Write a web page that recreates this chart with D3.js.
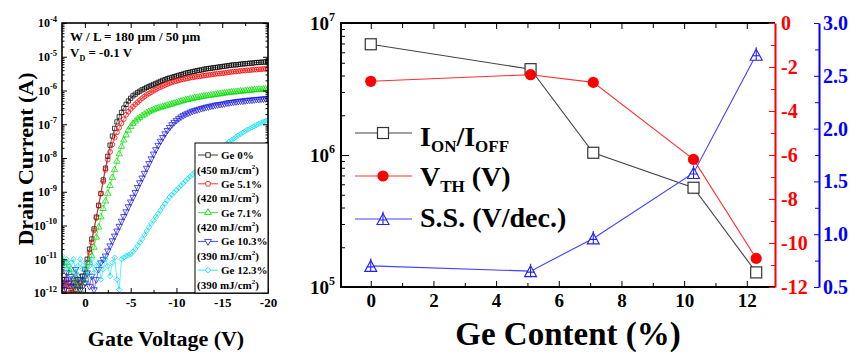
<!DOCTYPE html>
<html><head><meta charset="utf-8">
<script src="https://cdn.jsdelivr.net/npm/d3@7"></script>
<style>
body{margin:0;background:#fff}
svg{display:block}
text{font-family:"Liberation Serif","Times New Roman",serif;font-weight:bold}
</style>
</head><body>
<svg id="c" width="851" height="356"></svg>
<script>
// ---------------- DATA: transfer curves (log10 of drain current, A) ----------------
const gateVoltage = [
 2.5, 2.25, 2, 1.75, 1.5, 1.25, 1, 0.75, 0.5, 0.25,
 0, -0.25, -0.5, -0.75, -1, -1.25, -1.5, -1.75, -2, -2.25,
 -2.5, -2.75, -3, -3.25, -3.5, -3.75, -4, -4.25, -4.5, -4.75,
 -5, -5.25, -5.5, -5.75, -6, -6.25, -6.5, -6.75, -7, -7.25,
 -7.5, -7.75, -8, -8.25, -8.5, -8.75, -9, -9.25, -9.5, -9.75,
 -10, -10.25, -10.5, -10.75, -11, -11.25, -11.5, -11.75, -12, -12.25,
 -12.5, -12.75, -13, -13.25, -13.5, -13.75, -14, -14.25, -14.5, -14.75,
 -15, -15.25, -15.5, -15.75, -16, -16.25, -16.5, -16.75, -17, -17.25,
 -17.5, -17.75, -18, -18.25, -18.5, -18.75, -19, -19.25, -19.5, -19.75,
 -20];
const logId_Ge0 = [
 -11.7, -11.9, -11.6, -11.8, -12.0, -11.7, -11.9, -11.6, -11.8, -11.5,
 -11.3, -11.0, -10.7, -10.4, -10.1, -9.75, -9.4, -9.05, -8.65, -8.3,
 -7.95, -7.62, -7.35, -7.12, -6.93, -6.78, -6.65, -6.52, -6.41, -6.31,
 -6.23, -6.16, -6.11, -6.06, -6.02, -5.98, -5.95, -5.91, -5.88, -5.85,
 -5.82, -5.79, -5.76, -5.73, -5.70, -5.68, -5.65, -5.63, -5.61, -5.59,
 -5.57, -5.55, -5.53, -5.51, -5.49, -5.47, -5.46, -5.44, -5.43, -5.41,
 -5.40, -5.39, -5.37, -5.36, -5.35, -5.34, -5.33, -5.32, -5.31, -5.30,
 -5.29, -5.28, -5.27, -5.26, -5.25, -5.24, -5.24, -5.23, -5.22, -5.21,
 -5.21, -5.20, -5.19, -5.19, -5.18, -5.17, -5.17, -5.16, -5.16, -5.15,
 -5.14];
const logId_Ge51 = [
 -11.8, -11.6, -11.9, -11.7, -11.8, -12.0, -11.6, -11.9, -11.7, -11.8,
 -11.5, -11.1, -10.8, -10.5, -10.15, -9.78, -9.42, -9.06, -8.7, -8.35,
 -8.05, -7.82, -7.6, -7.4, -7.24, -7.1, -6.97, -6.85, -6.72, -6.63,
 -6.55, -6.48, -6.41, -6.35, -6.29, -6.23, -6.18, -6.13, -6.09, -6.05,
 -6.01, -5.97, -5.93, -5.90, -5.87, -5.84, -5.81, -5.78, -5.76, -5.74,
 -5.72, -5.70, -5.68, -5.67, -5.65, -5.64, -5.62, -5.61, -5.60, -5.59,
 -5.58, -5.57, -5.56, -5.55, -5.54, -5.53, -5.52, -5.51, -5.50, -5.50,
 -5.49, -5.48, -5.47, -5.46, -5.45, -5.44, -5.44, -5.43, -5.42, -5.41,
 -5.41, -5.40, -5.40, -5.39, -5.38, -5.38, -5.37, -5.37, -5.36, -5.36,
 -5.35];
const logId_Ge71 = [
 -11.0, -11.2, -11.1, -11.4, -11.3, -11.6, -11.8, -11.5, -11.9, -11.6,
 -11.7, -11.4, -11.1, -10.9, -10.65, -10.35, -10.05, -9.75, -9.5, -9.28,
 -9.05, -8.82, -8.58, -8.35, -8.1, -7.88, -7.66, -7.47, -7.32, -7.18,
 -7.07, -6.98, -6.91, -6.85, -6.8, -6.75, -6.71, -6.67, -6.63, -6.6,
 -6.57, -6.54, -6.52, -6.50, -6.48, -6.46, -6.44, -6.42, -6.40, -6.38,
 -6.36, -6.34, -6.32, -6.30, -6.28, -6.27, -6.25, -6.24, -6.22, -6.21,
 -6.20, -6.18, -6.17, -6.16, -6.15, -6.14, -6.13, -6.12, -6.11, -6.10,
 -6.09, -6.08, -6.07, -6.06, -6.05, -6.05, -6.04, -6.03, -6.02, -6.02,
 -6.01, -6.00, -6.00, -5.99, -5.98, -5.98, -5.97, -5.97, -5.96, -5.96,
 -5.95];
const logId_Ge103 = [
 -11.6, -11.9, -11.4, -11.7, -11.5, -11.8, -11.3, -11.6, -11.9, -11.5,
 -11.7, -11.4, -11.8, -11.5, -11.9, -11.6, -11.3, -11.1, -11.0, -10.9,
 -10.75, -10.6, -10.45, -10.31, -10.16, -10.02, -9.87, -9.73, -9.59, -9.44,
 -9.3, -9.16, -9.02, -8.87, -8.73, -8.59, -8.45, -8.3, -8.16, -8.02,
 -7.88, -7.75, -7.62, -7.5, -7.39, -7.28, -7.18, -7.09, -7.01, -6.94,
 -6.88, -6.83, -6.78, -6.74, -6.70, -6.67, -6.64, -6.61, -6.59, -6.57,
 -6.55, -6.53, -6.51, -6.49, -6.48, -6.46, -6.45, -6.43, -6.42, -6.41,
 -6.40, -6.39, -6.37, -6.36, -6.35, -6.34, -6.33, -6.32, -6.31, -6.31,
 -6.30, -6.29, -6.28, -6.28, -6.27, -6.26, -6.26, -6.25, -6.25, -6.24,
 -6.24];
const logId_Ge123 = [
 -10.9, -11.2, -11.0, -11.3, -11.1, -11.0, -11.4, -11.2, -11.0, -11.3,
 -11.1, -11.5, -11.2, -11.0, -11.4, -11.2, -11.1, -11.6, -11.3, -11.0,
 -11.2, -11.5, -11.1, -10.95, -11.6, -11.9, -11.0, -10.95, -10.9, -10.88,
 -10.85, -10.78, -10.7, -10.6, -10.5, -10.4, -10.28, -10.16, -10.05, -9.95,
 -9.85, -9.75, -9.65, -9.55, -9.45, -9.35, -9.25, -9.16, -9.09, -9.02,
 -8.95, -8.88, -8.81, -8.75, -8.68, -8.61, -8.55, -8.49, -8.43, -8.38,
 -8.32, -8.27, -8.22, -8.16, -8.1, -8.03, -7.97, -7.9, -7.83, -7.76,
 -7.7, -7.63, -7.57, -7.52, -7.47, -7.43, -7.38, -7.33, -7.29, -7.25,
 -7.2, -7.16, -7.13, -7.09, -7.06, -7.02, -6.99, -6.96, -6.93, -6.9,
 -6.87];
const sampleNames = ["Ge 0%", "Ge 5.1%", "Ge 7.1%", "Ge 10.3%", "Ge 12.3%"];
const laserFluence = ["450", "420", "420", "390", "390"];
const leftXTicks = [0, -5, -10, -15, -20];
const leftYTicks = [1e-12, 1e-11, 1e-10, 1e-9, 1e-8, 1e-7, 1e-6, 1e-5, 1e-4];

// ---------------- DATA: device parameters vs Ge content ----------------
const geContent = [0, 5.1, 7.1, 10.3, 12.3];
const onOffRatio = [6.9e6, 4.47e6, 1.04e6, 5.65e5, 1.29e5];
const thresholdVoltage = [-2.65, -2.35, -2.7, -6.2, -10.7];
const subthresholdSwing = [0.70, 0.65, 0.96, 1.58, 2.70];
const rightXTicks = [0, 2, 4, 6, 8, 10, 12];
const ratioTicks = [1e5, 1e6, 1e7];
const vthTicks = [0, -2, -4, -6, -8, -10, -12];
const ssTicks = [0.5, 1.0, 1.5, 2.0, 2.5, 3.0];

// ---------------- DRAW ----------------
const svg = d3.select("#c");
const FONT = "Liberation Serif";

function styleAxis(g, size, color) {
  g.attr("font-family", FONT).attr("font-size", size).attr("font-weight", "bold")
   .attr("color", color || "#000");
}
function sciLabels(g, fs, sfs) {
  g.selectAll(".tick text").each(function (d) {
    const e = Math.round(Math.log10(d));
    const t = d3.select(this).text(null);
    t.append("tspan").text("10");
    t.append("tspan").attr("dy", -fs * 0.45).attr("font-size", sfs).text(String(e));
  });
}

// ===== LEFT PANEL =====
const xL = d3.scaleLinear().domain([2.5, -20]).range([62, 268]);
const yL = d3.scaleLog().domain([1e-12, 1e-4]).range([293, 23]);

svg.append("defs").append("clipPath").attr("id", "clipL")
  .append("rect").attr("x", 62).attr("y", 23).attr("width", 206).attr("height", 270);

const series = [
  {vals: logId_Ge0,   color: "#000000", sym: d3.symbolSquare,   rot: 0},
  {vals: logId_Ge51,  color: "#ff0000", sym: d3.symbolCircle,   rot: 0},
  {vals: logId_Ge71,  color: "#00dd00", sym: d3.symbolTriangle, rot: 0},
  {vals: logId_Ge103, color: "#1a1ae0", sym: d3.symbolTriangle, rot: 180},
  {vals: logId_Ge123, color: "#00e0ee", sym: d3.symbolSquare,   rot: 45}
];

const plotL = svg.append("g").attr("clip-path", "url(#clipL)");
series.forEach(s => {
  const pts = gateVoltage.map((v, i) => [xL(v), yL(Math.pow(10, s.vals[i]))]);
  plotL.append("path").attr("d", d3.line()(pts)).attr("fill", "none")
    .attr("stroke", s.color).attr("stroke-width", 0.6);
  plotL.append("g").selectAll("path").data(pts).enter().append("path")
    .attr("transform", d => `translate(${d[0]},${d[1]}) rotate(${s.rot})`)
    .attr("d", d3.symbol(s.sym, s.rot === 45 ? 14 : 18)())
    .attr("fill", "none").attr("stroke", s.color).attr("stroke-width", 0.75);
});

// axes left panel
const minorV = [-2.5, -7.5, -12.5, -17.5];
const minorI = [];
for (let e = -12; e < -4; e++) for (let k = 2; k <= 9; k++) minorI.push(k * Math.pow(10, e));

const gxb = svg.append("g").attr("transform", "translate(0,293)")
  .call(d3.axisBottom(xL).tickValues(leftXTicks).tickSize(-5).tickPadding(5).tickFormat(d => String(d)));
styleAxis(gxb, 13);
svg.append("g").attr("transform", "translate(0,293)")
  .call(d3.axisBottom(xL).tickValues(minorV).tickSize(-3).tickFormat(""));
svg.append("g").attr("transform", "translate(0,23)")
  .call(d3.axisTop(xL).tickValues(leftXTicks).tickSize(-5).tickFormat(""));
svg.append("g").attr("transform", "translate(0,23)")
  .call(d3.axisTop(xL).tickValues(minorV).tickSize(-3).tickFormat(""));

const gyl = svg.append("g").attr("transform", "translate(62,0)")
  .call(d3.axisLeft(yL).tickValues(leftYTicks).tickSize(-5).tickPadding(5));
styleAxis(gyl, 12);
sciLabels(gyl, 12, 8.5);
svg.append("g").attr("transform", "translate(62,0)")
  .call(d3.axisLeft(yL).tickValues(minorI).tickSize(-2.5).tickFormat(""));
svg.append("g").attr("transform", "translate(268,0)")
  .call(d3.axisRight(yL).tickValues(leftYTicks).tickSize(-5).tickFormat(""));
svg.append("g").attr("transform", "translate(268,0)")
  .call(d3.axisRight(yL).tickValues(minorI).tickSize(-2.5).tickFormat(""));
svg.selectAll(".domain").remove();

svg.append("rect").attr("x", 62).attr("y", 23).attr("width", 206).attr("height", 270)
  .attr("fill", "none").attr("stroke", "#000").attr("stroke-width", 1.6);

// annotations
svg.append("text").attr("x", 70).attr("y", 41).attr("font-size", 13).text("W / L = 180 μm / 50 μm");
const vd = svg.append("text").attr("x", 70).attr("y", 57).attr("font-size", 13);
vd.append("tspan").text("V");
vd.append("tspan").attr("font-size", 8).attr("dy", 4).text("D");
vd.append("tspan").attr("dy", -4).text(" = -0.1 V");

// legend left
const lg = svg.append("g");
lg.append("rect").attr("x", 195).attr("y", 143).attr("width", 73).attr("height", 150)
  .attr("fill", "#fff").attr("stroke", "#000").attr("stroke-width", 1);
series.forEach((s, i) => {
  const y = 155 + i * 28.8;
  lg.append("line").attr("x1", 198).attr("x2", 218).attr("y1", y).attr("y2", y)
    .attr("stroke", s.color).attr("stroke-width", 0.8);
  lg.append("path").attr("transform", `translate(208,${y}) rotate(${s.rot})`)
    .attr("d", d3.symbol(s.sym, s.rot === 45 ? 16 : 20)())
    .attr("fill", "#fff").attr("stroke", s.color).attr("stroke-width", 0.8);
  lg.append("text").attr("x", 221).attr("y", y + 4).attr("font-size", 11).text(sampleNames[i]);
  const t = lg.append("text").attr("x", 197).attr("y", y + 18.5).attr("font-size", 11);
  t.append("tspan").text("(" + laserFluence[i] + " mJ/cm");
  t.append("tspan").attr("font-size", 7).attr("dy", -5).text("2");
  t.append("tspan").attr("dy", 5).text(")");
});

// titles left
svg.append("text").attr("transform", "translate(33,159) rotate(-90)")
  .attr("text-anchor", "middle").attr("font-size", 22).text("Drain Current (A)");
svg.append("text").attr("x", 166).attr("y", 346).attr("text-anchor", "middle")
  .attr("font-size", 22).text("Gate Voltage (V)");

// ===== RIGHT PANEL =====
const xR = d3.scaleLinear().domain([-0.95, 12.9]).range([341, 775]);
const yR = d3.scaleLog().domain([1e5, 1e7]).range([287, 23]);
const yVth = d3.scaleLinear().domain([-12, 0]).range([287, 23]);
const ySS = d3.scaleLinear().domain([0.5, 3.0]).range([287, 23]);

const minorG = [1, 3, 5, 7, 9, 11];
const gxr = svg.append("g").attr("transform", "translate(0,287)")
  .call(d3.axisBottom(xR).tickValues(rightXTicks).tickSize(-6).tickPadding(7).tickFormat(d => String(d)));
styleAxis(gxr, 19);
svg.append("g").attr("transform", "translate(0,287)")
  .call(d3.axisBottom(xR).tickValues(minorG).tickSize(-4).tickFormat(""));
svg.append("g").attr("transform", "translate(0,23)")
  .call(d3.axisTop(xR).tickValues(rightXTicks).tickSize(-6).tickFormat(""));
svg.append("g").attr("transform", "translate(0,23)")
  .call(d3.axisTop(xR).tickValues(minorG).tickSize(-5).tickFormat(""));

const minorR = [];
for (let e = 5; e < 7; e++) for (let k = 2; k <= 9; k++) minorR.push(k * Math.pow(10, e));
const gyr = svg.append("g").attr("transform", "translate(341,0)")
  .call(d3.axisLeft(yR).tickValues(ratioTicks).tickSize(-8).tickPadding(6));
styleAxis(gyr, 19);
sciLabels(gyr, 19, 12);
svg.append("g").attr("transform", "translate(341,0)")
  .call(d3.axisLeft(yR).tickValues(minorR).tickSize(-4).tickFormat(""));
svg.selectAll(".domain").remove();

// frame lines (left, top, bottom)
svg.append("path").attr("d", "M775,23 H341 V287 H775").attr("fill", "none")
  .attr("stroke", "#000").attr("stroke-width", 2);

// red axis
const gRed = svg.append("g").attr("transform", "translate(775,0)")
  .call(d3.axisRight(yVth).tickValues(vthTicks).tickSize(-6).tickSizeOuter(0).tickPadding(6).tickFormat(d => String(d)));
styleAxis(gRed, 20, "#ff0000");
gRed.selectAll("text").attr("fill", "#ff0000");
gRed.select(".domain").attr("stroke-width", 2);
svg.append("g").attr("transform", "translate(775,0)").attr("color", "#ff0000")
  .call(d3.axisRight(yVth).tickValues([-1, -3, -5, -7, -9, -11]).tickSize(-4).tickFormat(""))
  .select(".domain").remove();

// blue axis
const gBlue = svg.append("g").attr("transform", "translate(819,0)")
  .call(d3.axisRight(ySS).tickValues(ssTicks).tickSize(-5).tickSizeOuter(0).tickPadding(4).tickFormat(d3.format(".1f")));
styleAxis(gBlue, 20, "#0000ff");
gBlue.selectAll("text").attr("fill", "#0000ff");
gBlue.select(".domain").attr("stroke-width", 2);
svg.append("g").attr("transform", "translate(819,0)").attr("color", "#0000ff")
  .call(d3.axisRight(ySS).tickValues([0.75, 1.25, 1.75, 2.25, 2.75]).tickSize(-4).tickFormat(""))
  .select(".domain").remove();

// markers
function triPlus(g, x, y, color) {
  const h = 11, w = 12;
  g.append("path").attr("d", `M${x},${y - h / 2} L${x + w / 2},${y + h / 2} L${x - w / 2},${y + h / 2} Z`)
    .attr("fill", "#fff").attr("stroke", color).attr("stroke-width", 1.1);
  g.append("path").attr("d", `M${x},${y - h / 2 - 2} V${y + h / 2} M${x - w / 2 + 2},${y + 1} H${x + w / 2 - 2}`)
    .attr("stroke", color).attr("stroke-width", 1.1);
}
function openSquare(g, x, y, color) {
  g.append("rect").attr("x", x - 5.5).attr("y", y - 5.5).attr("width", 11).attr("height", 11)
    .attr("fill", "#fff").attr("stroke", color).attr("stroke-width", 1.2);
}
function dot(g, x, y, color) {
  g.append("circle").attr("cx", x).attr("cy", y).attr("r", 5.6).attr("fill", color);
}

const gR = svg.append("g");
const lineRatio = d3.line().x((d, i) => xR(geContent[i])).y(d => yR(d));
const lineVth = d3.line().x((d, i) => xR(geContent[i])).y(d => yVth(d));
const lineSS = d3.line().x((d, i) => xR(geContent[i])).y(d => ySS(d));
gR.append("path").attr("d", lineRatio(onOffRatio)).attr("fill", "none").attr("stroke", "#444").attr("stroke-width", 1.1);
gR.append("path").attr("d", lineVth(thresholdVoltage)).attr("fill", "none").attr("stroke", "#ff3030").attr("stroke-width", 1.1);
gR.append("path").attr("d", lineSS(subthresholdSwing)).attr("fill", "none").attr("stroke", "#4040ff").attr("stroke-width", 1.1);
onOffRatio.forEach((v, i) => openSquare(gR, xR(geContent[i]), yR(v), "#333"));
thresholdVoltage.forEach((v, i) => dot(gR, xR(geContent[i]), yVth(v), "#ff0000"));
subthresholdSwing.forEach((v, i) => triPlus(gR, xR(geContent[i]), ySS(v), "#2020ff"));

// legend right
const lr = svg.append("g");
const rows = [133, 176, 219];
lr.append("line").attr("x1", 355).attr("x2", 412).attr("y1", rows[0]).attr("y2", rows[0]).attr("stroke", "#444").attr("stroke-width", 1.1);
openSquare(lr, 383, rows[0], "#333");
lr.append("line").attr("x1", 355).attr("x2", 412).attr("y1", rows[1]).attr("y2", rows[1]).attr("stroke", "#ff3030").attr("stroke-width", 1.1);
dot(lr, 383, rows[1], "#ff0000");
lr.append("line").attr("x1", 355).attr("x2", 412).attr("y1", rows[2]).attr("y2", rows[2]).attr("stroke", "#4040ff").attr("stroke-width", 1.1);
triPlus(lr, 383, rows[2], "#2020ff");

const t1 = lr.append("text").attr("x", 420).attr("y", 146).attr("font-size", 28);
t1.append("tspan").text("I");
t1.append("tspan").attr("font-size", 17).attr("dy", 6).text("ON");
t1.append("tspan").attr("dy", -6).text("/I");
t1.append("tspan").attr("font-size", 17).attr("dy", 6).text("OFF");
const t2 = lr.append("text").attr("x", 420).attr("y", 186).attr("font-size", 28);
t2.append("tspan").text("V");
t2.append("tspan").attr("font-size", 17).attr("dy", 6).text("TH");
t2.append("tspan").attr("dy", -6).text(" (V)");
lr.append("text").attr("x", 420).attr("y", 227).attr("font-size", 28).text("S.S. (V/dec.)");

svg.append("text").attr("x", 568).attr("y", 345).attr("text-anchor", "middle")
  .attr("font-size", 33).text("Ge Content (%)");
</script>
</body></html>
